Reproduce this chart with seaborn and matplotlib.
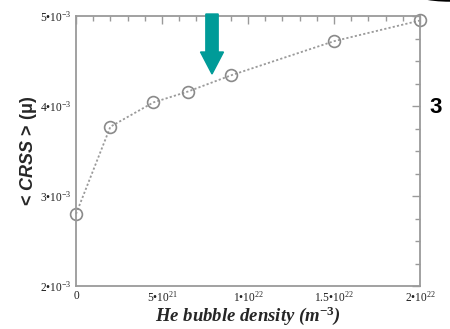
import matplotlib
matplotlib.use("Agg")
import matplotlib.pyplot as plt
import seaborn as sns
import numpy as np
from matplotlib.ticker import MultipleLocator, FixedLocator
from matplotlib.patches import FancyArrow, Arc

density = [0.0, 2.0e21, 4.5e21, 6.5e21, 9.0e21, 1.5e22, 2.0e22]
crss = [2.80e-3, 3.77e-3, 4.04e-3, 4.16e-3, 4.34e-3, 4.72e-3, 4.95e-3]
x_ticks = [0, 5e21, 1e22, 1.5e22, 2e22]
x_tick_labels = ["0", "5•10$^{21}$", "1•10$^{22}$", "1.5•10$^{22}$", "2•10$^{22}$"]
y_ticks = [2e-3, 3e-3, 4e-3, 5e-3]
y_tick_labels = ["2•10$^{-3}$", "3•10$^{-3}$", "4•10$^{-3}$", "5•10$^{-3}$"]

sns.set_style("white")
plt.rcParams["mathtext.fontset"] = "custom"
plt.rcParams["mathtext.rm"] = "Liberation Serif"
plt.rcParams["mathtext.it"] = "Liberation Serif:italic"
plt.rcParams["mathtext.bf"] = "Liberation Serif:bold"
plt.rcParams["mathtext.bfit"] = "Liberation Sans:italic:bold"
plt.rcParams["font.family"] = ["Liberation Serif", "DejaVu Serif"]

fig = plt.figure(figsize=(4.5, 3.29), dpi=100)
ax = fig.add_axes([76/450, 1-286/329, (420-76)/450, (286-16)/329])

gray = "#9a9a9a"
sns.lineplot(x=density, y=crss, ax=ax, color=gray, linestyle=(0, (1.2, 1.2)),
             linewidth=1.3, marker="o", markersize=8.5, markerfacecolor="none",
             markeredgecolor="#8a8a8a", markeredgewidth=1.2, clip_on=False)
for ln in ax.lines:
    ln.set_clip_on(False)

ax.set_xlim(0, 2e22)
ax.set_ylim(2e-3, 5e-3)
ax.xaxis.set_major_locator(FixedLocator(x_ticks))
ax.set_xticklabels(x_tick_labels)
ax.yaxis.set_major_locator(FixedLocator(y_ticks))
ax.set_yticklabels(y_tick_labels)
ax.xaxis.set_minor_locator(MultipleLocator(1e21))
ax.yaxis.set_minor_locator(MultipleLocator(0.25e-3))
ax.tick_params(which="both", direction="in", top=True, right=True,
               color=gray, width=1.0, labelsize=8.3, labelcolor="#222222")
ax.tick_params(which="major", length=6, pad=3)
ax.tick_params(which="minor", length=3.5)
for s in ax.spines.values():
    s.set_color(gray)
    s.set_linewidth(1.3)

ax.set_xlabel("He bubble density (m$^{\\mathbf{-3}}$)", fontsize=13.5,
              fontweight="bold", fontstyle="italic", family="Liberation Serif",
              labelpad=0)
ax.set_ylabel("< $\\mathbfit{CRSS}$ > (μ)", fontsize=13, fontweight="bold",
              family="Liberation Sans", labelpad=1)

# teal arrow
fig.patches.append(FancyArrow(212/450, 1-14/329, 0, -(60)/329, width=9/329,
                              head_width=23/450, head_length=22/329,
                              length_includes_head=True, color="#009b98",
                              transform=fig.transFigure, figure=fig))
fig.text(436/450, 1-108/329, "3", fontsize=16, fontweight="bold",
         family="Liberation Sans", ha="center", va="center", color="black")
fig.patches.append(Arc((450/450, 1+10/329), 80/450, 20/329, theta1=180, theta2=360,
                       color="black", linewidth=2.5, transform=fig.transFigure,
                       figure=fig))

fig.savefig("out.png", dpi=100)
